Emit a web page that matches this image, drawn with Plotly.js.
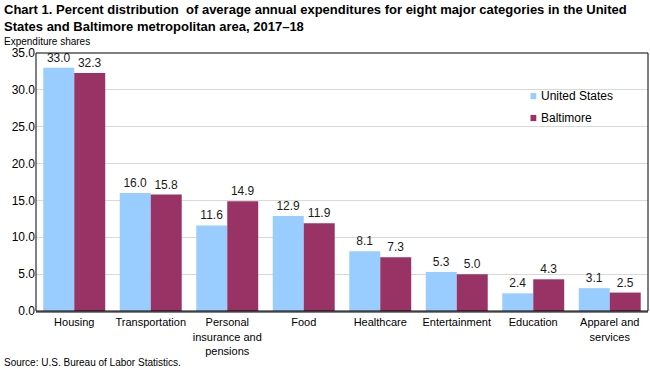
<!DOCTYPE html>
<html><head><meta charset="utf-8">
<script src="https://cdn.plot.ly/plotly-3.0.1.min.js"></script>
<style>html,body{margin:0;padding:0;background:#fff}#c{width:650px;height:368px}</style>
</head><body><div id="c"></div>
<script>
const categories = ["Housing","Transportation","Personal<br>insurance and<br>pensions","Food","Healthcare","Entertainment","Education","Apparel and<br>services"];
const seriesNames = ["United States","Baltimore"];
const usValues = [33.0,16.0,11.6,12.9,8.1,5.3,2.4,3.1];
const baltValues = [32.3,15.8,14.9,11.9,7.3,5.0,4.3,2.5];
const yTicks = [0,5,10,15,20,25,30,35];
const colors = ["#99CCFF","#993366"];

const font = "Liberation Sans, Arial, sans-serif";
const traces = [usValues, baltValues].map((vals,i)=>({
  type:"bar", name:seriesNames[i], x:categories, y:vals, marker:{color:colors[i]},
  text:vals.map(v=>v.toFixed(1)), textposition:"outside", cliponaxis:false,
  textfont:{family:font,size:12,color:"#1a1a1a"}, showlegend:false
}));
const legY = [0.833, 0.748];
const legendShapes = seriesNames.map((n,i)=>({type:"rect",xref:"paper",yref:"paper",
  x0:0.808,x1:0.8175,y0:legY[i]-0.012,y1:legY[i]+0.012,fillcolor:colors[i],line:{width:0}}));
const legendAnn = seriesNames.map((n,i)=>({text:n,xref:"paper",yref:"paper",x:0.822,y:legY[i],
  xanchor:"left",yanchor:"middle",showarrow:false,font:{family:font,size:12,color:"#000"}}));
const layout = {
 width:650, height:368, margin:{l:36,r:2,t:53,b:57},
 paper_bgcolor:"#fff", plot_bgcolor:"#fff",
 font:{family:font,size:11,color:"#000"},
 barmode:"group", bargap:0.19, bargroupgap:0,
 showlegend:false,
 xaxis:{type:"category", showline:true, linecolor:"#808080", linewidth:2, mirror:false,
   tickfont:{family:font,size:11,color:"#000"}, ticks:"", showgrid:false},
 yaxis:{range:[0,35], tickvals:yTicks, tickformat:".1f", showgrid:true, gridcolor:"#d9d9d9",
   gridwidth:1, zeroline:false, showline:false, ticks:"",
   tickfont:{family:font,size:12,color:"#000"}},
 shapes:[{type:"rect",xref:"paper",yref:"paper",x0:0,x1:1,y0:0,y1:1,line:{color:"#000",width:1},fillcolor:"rgba(0,0,0,0)",layer:"above"}].concat(legendShapes),
 annotations:[
  {text:"<b>Chart 1. Percent distribution  of average annual expenditures for eight major categories in the United<br>States and Baltimore metropolitan area, 2017–18</b>",
   xref:"paper",yref:"paper",x:-0.055,y:1.205,xanchor:"left",yanchor:"top",showarrow:false,align:"left",
   font:{family:font,size:13,color:"#000"}},
  {text:"Expenditure shares",xref:"paper",yref:"paper",x:-0.055,y:1.043,xanchor:"left",yanchor:"middle",showarrow:false,
   font:{family:font,size:10,color:"#000"}},
  {text:"Source: U.S. Bureau of Labor Statistics.",xref:"paper",yref:"paper",x:-0.055,y:-0.2,xanchor:"left",yanchor:"middle",showarrow:false,
   font:{family:font,size:10,color:"#000"}}
 ].concat(legendAnn)
};
Plotly.newPlot("c",traces,layout,{displayModeBar:false,staticPlot:true});
</script></body></html>
